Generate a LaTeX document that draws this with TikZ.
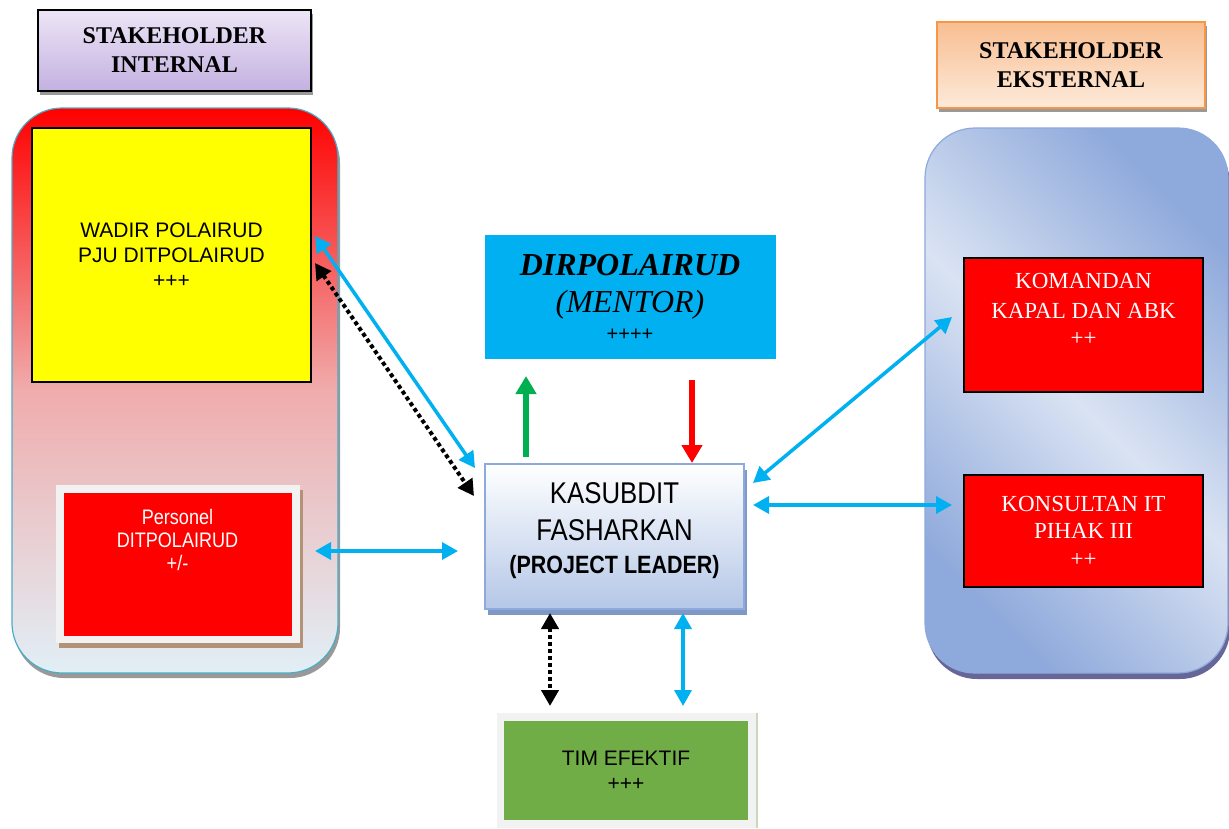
\documentclass[tikz,border=0pt]{standalone}
\usepackage{fontspec}
\setmainfont{Liberation Serif}
\newfontfamily\arialfont{Liberation Sans}
\newfontfamily\narrowfont[FakeStretch=0.86]{Liberation Sans}
\usepackage{tikz}
\usetikzlibrary{arrows.meta,shadows,positioning}

\definecolor{skyblue}{RGB}{0,176,240}
\definecolor{leafgreen}{RGB}{112,173,71}
\definecolor{arrowgreen}{RGB}{0,176,80}
\definecolor{tealline}{RGB}{75,172,198}
\definecolor{blueline}{RGB}{142,169,219}
\definecolor{lightblue}{RGB}{218,227,243}
\definecolor{midblue}{RGB}{180,199,231}
\definecolor{lavtop}{RGB}{237,229,246}
\definecolor{lavbot}{RGB}{195,177,225}
\definecolor{orgtop}{RGB}{248,190,145}
\definecolor{orgbot}{RGB}{253,234,218}
\definecolor{orgline}{RGB}{247,150,70}
\definecolor{pinkmid}{RGB}{240,172,172}
\definecolor{icebot}{RGB}{225,239,246}
\definecolor{framegray}{RGB}{242,242,242}
\definecolor{brownshadow}{RGB}{180,146,120}
\definecolor{pureyellow}{RGB}{255,255,0}

\begin{document}
\begin{tikzpicture}[x = 1pt,
                    y = -1pt,
                    color = {black}]
% styles
\tikzset{headbox/.style={draw,line width=1.5pt,align=center,font=\bfseries\fontsize{24}{29}\selectfont,
                         drop shadow={shadow xshift=2pt,shadow yshift=-4pt,fill=gray!80,opacity=1}}}
\tikzset{redbox/.style={fill=red,draw=black,line width=1.2pt,text=white,align=center}}
\tikzset{framebox/.style={fill=framegray,draw=none}}
\tikzset{cyanarrow/.style={draw=skyblue,line width=3.5pt,arrows={Triangle[length=16pt,width=17pt]-Triangle[length=16pt,width=17pt]}}}
\tikzset{dotarrow/.style={draw=black,line width=4pt,dash pattern=on 4pt off 3pt,
                          arrows={Triangle[length=16pt,width=17pt]-Triangle[length=16pt,width=17pt]}}}
\tikzset{blockarrow/.style={line width=6pt,arrows={-Triangle[length=18pt,width=20pt]}}}

\useasboundingbox (0,0) rectangle (1229,828);

%stakeholder internal
\node (headint) [headbox,top color=lavtop,bottom color=lavbot,minimum width=273pt,minimum height=81pt]
      at (174.5,50.5) {STAKEHOLDER\\INTERNAL};
\node (internal) [draw=tealline,line width=1.2pt,rounded corners=50pt,
      top color=red,bottom color=icebot,middle color=pinkmid,
      minimum width=326pt,minimum height=565pt,
      drop shadow={shadow xshift=2pt,shadow yshift=-5pt,fill=gray!80,opacity=1}]
      at (175,390.5) {};
\node (wadir) [fill=pureyellow,draw=black,line width=1.2pt,minimum width=279pt,minimum height=254pt,
      align=center,font=\arialfont\fontsize{21}{25}\selectfont]
      at (171.5,255) {WADIR POLAIRUD\\PJU DITPOLAIRUD\\+++};
\node (persframe) [framebox,minimum width=244pt,minimum height=158pt,
      drop shadow={shadow xshift=3pt,shadow yshift=-5pt,fill=brownshadow,opacity=1}]
      at (178,564) {};
\node (pers) [fill=red,minimum width=228pt,minimum height=143pt] at (177.5,564.5) {};
\node (perstext) [below=13pt of pers.north,text=white,align=center,font=\narrowfont\fontsize{21}{23}\selectfont]
      {Personel\\DITPOLAIRUD\\+/-};

%mentor
\node (dir) [fill=skyblue,minimum width=291pt,minimum height=124pt,align=center,
      font=\fontsize{32}{37}\selectfont] at (630,297)
      {\bfseries\itshape DIRPOLAIRUD\\\itshape (MENTOR)\\[-9pt]{\arialfont\fontsize{20}{24}\selectfont ++++}};

%project leader
\node (kasub) [draw=blueline,line width=1.5pt,top color=white,bottom color=midblue,
      minimum width=259pt,minimum height=145pt,align=center,
      font=\narrowfont\fontsize{30}{37}\selectfont,
      drop shadow={shadow xshift=3pt,shadow yshift=-6pt,fill=blueline!90!black,opacity=1}]
      at (614.5,536.5) {KASUBDIT\\FASHARKAN\\[-4pt]{\bfseries\fontsize{25}{30}\selectfont (PROJECT LEADER)}\\[-20pt]};

%tim efektif
\node (timframe) [framebox,minimum width=259pt,minimum height=115pt,
      drop shadow={shadow xshift=2pt,shadow yshift=0pt,fill=gray!40!leafgreen!40,opacity=1}]
      at (626.5,770) {};
\node (tim) [fill=leafgreen,minimum width=244pt,minimum height=99pt,align=center,
      font=\arialfont\fontsize{21}{25}\selectfont] at (626,770.5) {TIM EFEKTIF\\+++};

%stakeholder eksternal
\node (headext) [headbox,draw=orgline,line width=1.2pt,top color=orgtop,bottom color=orgbot,
      minimum width=268pt,minimum height=86pt] at (1071,65) {STAKEHOLDER\\EKSTERNAL};
\node (external) [draw=blueline,line width=1.2pt,rounded corners=50pt,
      top color=blueline,bottom color=blueline,middle color=lightblue,shading angle=-45,
      minimum width=303pt,minimum height=545pt,
      drop shadow={shadow xshift=2pt,shadow yshift=-6pt,fill=gray!80!blue,opacity=1}]
      at (1076.5,400.5) {};
\node (komandan) [redbox,minimum width=239pt,minimum height=134pt,
      font=\fontsize{23}{30}\selectfont] at (1083.5,325)
      {KOMANDAN\\KAPAL DAN ABK\\[-3pt]++\\[2pt]};
\node (konsultan) [redbox,minimum width=239pt,minimum height=112pt,
      font=\fontsize{23}{27.5}\selectfont] at (1083.5,531)
      {KONSULTAN IT\\PIHAK III\\++};

% coordinates of arrow ends
\coordinate (W1) at (315,236);
\coordinate (W2) at (475,468);
\coordinate (W3) at (315,263);
\coordinate (W4) at (474,496);
\coordinate (P1) at (315,551);
\coordinate (P2) at (458,551);
\coordinate (D1) at (526,457);
\coordinate (D2) at (526,376);
\coordinate (D3) at (692,380);
\coordinate (D4) at (692,463);
\coordinate (E1) at (753,483);
\coordinate (E2) at (952,317);
\coordinate (E3) at (753,505);
\coordinate (E4) at (952,505);
\coordinate (T1) at (550,613);
\coordinate (T2) at (550,706);
\coordinate (T3) at (683,613);
\coordinate (T4) at (683,706);

%arrows
\draw [cyanarrow] (W1) -- (W2);
\draw [dotarrow] (W3) -- (W4);
\draw [cyanarrow] (P1) -- (P2);
\draw [blockarrow, arrowgreen] (D1) -- (D2);
\draw [blockarrow, red] (D3) -- (D4);
\draw [cyanarrow] (E1) -- (E2);
\draw [cyanarrow] (E3) -- (E4);
\draw [dotarrow] (T1) -- (T2);
\draw [cyanarrow] (T3) -- (T4);
\end{tikzpicture}
\end{document}
